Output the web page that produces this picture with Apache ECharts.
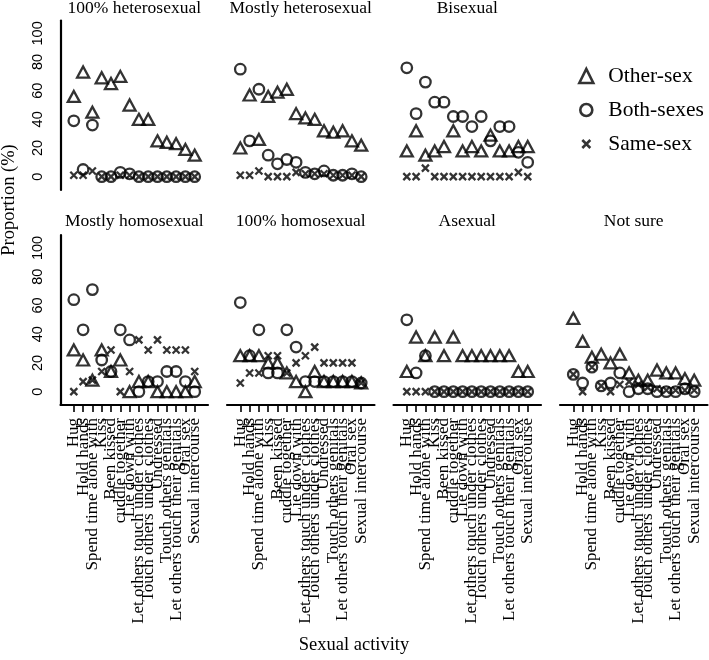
<!DOCTYPE html>
<html><head><meta charset="utf-8">
<script src="https://cdn.jsdelivr.net/npm/echarts@6/dist/echarts.min.js"></script>
<style>html,body{margin:0;padding:0;background:#fff}#c{width:709px;height:660px}</style>
</head><body><div id="c"></div>
<script>
// ---- data ----
const categories = ['Hug','Hold hands','Spend time alone with','Kiss','Been kissed','cuddle together','Lie down with','Let others touch under clothes','Touch others under clothes','Undressed','Touch others genitals','Let others touch their genitals','Oral sex','Sexual intercourse'];
const panelTitles = ['100% heterosexual','Mostly heterosexual','Bisexual','Mostly homosexual','100% homosexual','Asexual','Not sure'];
const seriesNames = ['Other-sex','Both-sexes','Same-sex'];
const yTickLabels = [0,20,40,60,80,100];
const xAxisTitle = 'Sexual activity';
const yAxisTitle = 'Proportion (%)';

const het100_other = [56,73,45,69,65,70,50,40,40,25,24,23,19,15];
const het100_both  = [39,5,36,0,0,3,2,0,0,0,0,0,0,0];
const het100_same  = [1,1,4,0,0,1,1,0,0,0,0,0,0,0];

const mostHet_other = [20,57,26,56,59,61,44,41,40,32,31,32,25,22];
const mostHet_both  = [75,25,61,15,9,12,10,3,2,4,1,1,2,0];
const mostHet_same  = [1,1,4,0,0,0,3,2,2,2,1,1,1,0];

const bi_other = [18,32,15,18,21,32,18,21,18,29,18,18,21,21];
const bi_both  = [76,44,66,52,52,42,42,35,42,25,35,35,17,10];
const bi_same  = [0,0,6,0,0,0,0,0,0,0,0,0,3,0];

const mostHom_other = [29,22,8,29,14,22,0,7,7,0,0,0,0,7];
const mostHom_both  = [64,43,71,22,14,43,36,0,7,7,14,14,7,0];
const mostHom_same  = [0,7,8,14,29,0,14,36,29,36,29,29,29,14];

const hom100_other = [25,25,25,20,20,13,7,0,14,7,7,7,7,6];
const hom100_both  = [62,25,43,13,13,43,31,7,7,7,7,7,7,6];
const hom100_same  = [6,13,13,25,25,13,20,25,31,20,20,20,20,6];

const asex_other = [14,38,25,38,25,38,25,25,25,25,25,25,14,14];
const asex_both  = [50,13,25,0,0,0,0,0,0,0,0,0,0,0];
const asex_same  = [0,0,0,0,0,0,0,0,0,0,0,0,0,0];

const unsure_other = [51,35,24,26,20,26,13,8,8,15,13,13,9,8];
const unsure_both  = [12,6,17,4,6,13,0,2,2,0,0,0,2,0];
const unsure_same  = [12,0,17,4,0,5,7,5,3,2,1,1,1,1];

const panelData = [
  [het100_other, het100_both, het100_same],
  [mostHet_other, mostHet_both, mostHet_same],
  [bi_other, bi_both, bi_same],
  [mostHom_other, mostHom_both, mostHom_same],
  [hom100_other, hom100_both, hom100_same],
  [asex_other, asex_both, asex_same],
  [unsure_other, unsure_both, unsure_same]
];

// ---- layout ----
const panelPos = [[0,0],[0,1],[0,2],[1,0],[1,1],[1,2],[1,3]];
const colLeft = [60.5, 227, 393.5, 560];
const panelW = 147.5;
const rowTop = [20.5, 235];
const rowH = [169.5, 170];
const titleTop = [-1, 212];
const xTickVals = categories.map((_, i) => i + 1);
const xOdd = xTickVals.filter(v => v % 2 === 1);
const xEven = xTickVals.filter(v => v % 2 === 0);

const serif = 'Liberation Serif';
const crossPath = 'path://M0,0L10,10M10,0L0,10';
const symbols = ['triangle', 'circle', crossPath];
const symbolSizes = [[12, 11], 10.5, 7];
const markStyle = {color: 'rgba(0,0,0,0)', borderColor: '#000', borderWidth: 2.3};

const grids = [], xAxes = [], yAxes = [], series = [], titles = [];
function xLabel(vals) {
  return {show: true, customValues: vals, rotate: 90, margin: 13,
    showMinLabel: true, showMaxLabel: true, hideOverlap: false,
    formatter: v => categories[Math.round(v) - 1] || '',
    fontFamily: serif, fontSize: 17, color: '#000'};
}
panelPos.forEach(([r, c], i) => {
  grids.push({left: colLeft[c], top: rowTop[r], width: panelW, height: rowH[r]});
  const xi = xAxes.length;
  // main x axis: line, ticks, labels for odd positions
  xAxes.push({
    type: 'value', gridIndex: i, position: 'bottom', min: -0.43, max: 15.43, show: r === 1,
    axisLine: {show: true, onZero: false, lineStyle: {color: '#000', width: 2.2}},
    axisTick: {show: true, customValues: xTickVals, length: 7, lineStyle: {color: '#000', width: 1.6}},
    axisLabel: xLabel(xOdd),
    splitLine: {show: false}
  });
  // companion x axis: labels for even positions only
  xAxes.push({
    type: 'value', gridIndex: i, position: 'bottom', offset: 0, min: -0.43, max: 15.43, show: r === 1,
    axisLine: {show: false, onZero: false},
    axisTick: {show: false},
    axisLabel: xLabel(xEven),
    splitLine: {show: false}
  });
  yAxes.push({
    type: 'value', gridIndex: i, min: -9.3, max: 109, show: c === 0,
    axisLine: {show: true, onZero: false, lineStyle: {color: '#000', width: 2.2}},
    axisTick: {show: false},
    axisLabel: {show: true, customValues: yTickLabels, rotate: 90, margin: 15,
      showMinLabel: true, showMaxLabel: true,
      fontFamily: 'Liberation Sans', fontSize: 14.5, color: '#000'},
    splitLine: {show: false}
  });
  titles.push({
    text: panelTitles[i], left: colLeft[c] + panelW / 2, top: titleTop[r], textAlign: 'center', padding: 0,
    textStyle: {fontFamily: serif, fontSize: 17.5, fontWeight: 'normal', color: '#000'}
  });
  panelData[i].forEach((vals, k) => {
    series.push({
      type: 'scatter', name: seriesNames[k], xAxisIndex: xi, yAxisIndex: i,
      symbol: symbols[k], symbolSize: symbolSizes[k],
      itemStyle: markStyle, emphasis: {disabled: true},
      data: vals.map((v, j) => [j + 1, v])
    });
  });
});

const legendIcons = [
  'path://M0,0M26,16M2,15L9,1L16,15Z',
  'path://M0,0M26,16M3,8A6,6,0,1,1,15,8A6,6,0,1,1,3,8Z',
  'path://M0,0M26,16M5,4L13,12M13,4L5,12'
];

const option = {
  animation: false,
  backgroundColor: '#fff',
  title: titles,
  grid: grids,
  xAxis: xAxes,
  yAxis: yAxes,
  legend: {
    orient: 'vertical', left: 576, top: 65, padding: 0, itemWidth: 26, itemHeight: 16, itemGap: 12,
    selectedMode: false,
    textStyle: {fontFamily: serif, fontSize: 21.5, color: '#000'},
    data: seriesNames.map((n, k) => ({name: n, icon: legendIcons[k],
      itemStyle: {color: 'rgba(0,0,0,0)', borderColor: '#000', borderWidth: 2.6}}))
  },
  graphic: [
    {type: 'text', x: 354, y: 645, style: {text: xAxisTitle, align: 'center', verticalAlign: 'middle',
      fontFamily: serif, fontSize: 18.5, fill: '#000'}},
    {type: 'text', x: 9, y: 200, rotation: Math.PI / 2, style: {text: yAxisTitle, align: 'center', verticalAlign: 'middle',
      fontFamily: serif, fontSize: 18.5, fill: '#000'}}
  ],
  series: series
};
const chart = echarts.init(document.getElementById('c'), null, {renderer: 'canvas'});
chart.setOption(option);
</script></body></html>
